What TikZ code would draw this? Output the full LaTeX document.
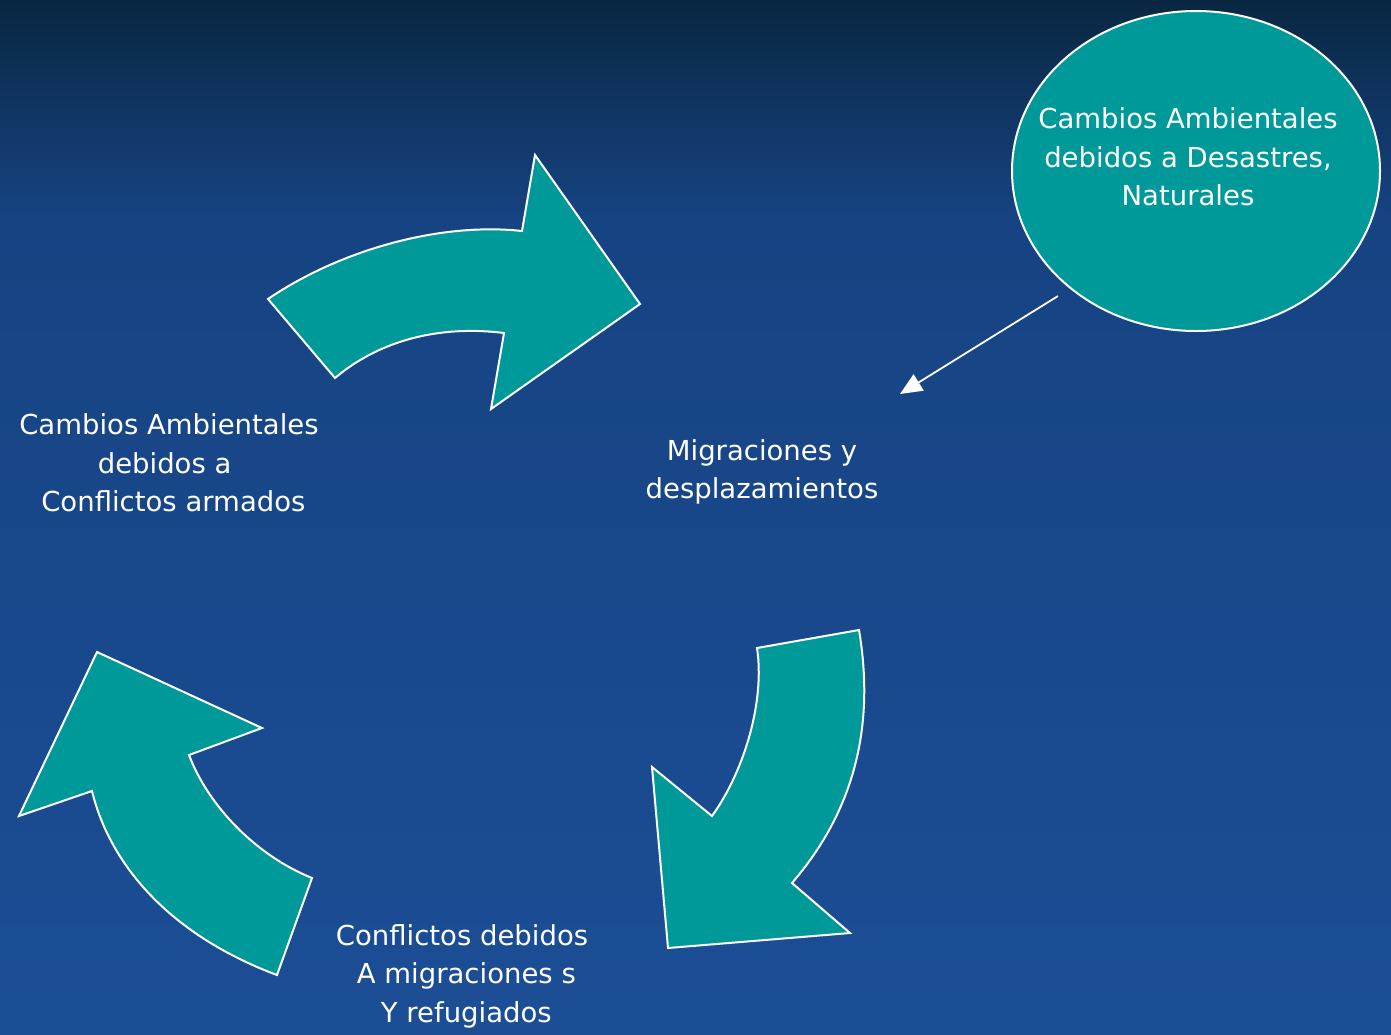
\documentclass[tikz,border=0pt]{standalone}
\usepackage{fontspec}
\setmainfont{DejaVu Sans}
\usetikzlibrary{shapes.geometric,arrows.meta}

\definecolor{fondoalto}{RGB}{9,39,66}
\definecolor{fondomedio}{RGB}{22,67,130}
\definecolor{fondobajo}{RGB}{28,78,150}
\definecolor{verdeazul}{RGB}{0,153,153}

\begin{document}
\begin{tikzpicture}[x=1pt,y=-1pt,
    texto/.style={text=white,align=center,font=\fontsize{27.5}{38.5}\selectfont,inner sep=0pt},
    curva/.style={fill=verdeazul,draw=white,line width=2pt,line join=miter},
    flechita/.style={draw=white,line width=1.8pt,-{Triangle[length=22pt,width=19pt]}}]
    \useasboundingbox (0,0) rectangle (1391,1034);
    \shade[top color=fondoalto,bottom color=fondomedio] (0,0) rectangle (1391,220);
    \shade[top color=fondomedio,bottom color=fondobajo] (0,220) rectangle (1391,1034);

    \draw[curva] (268,299) .. controls (340,250) and (440,222) .. (522,231)
        -- (535,155) -- (640,304) -- (491,409) -- (504,333)
        .. controls (440,325) and (380,340) .. (335,378) -- cycle;
    \draw[curva] (859,630) .. controls (875,725) and (855,810) .. (792,883)
        -- (850,933) -- (668,948) -- (652,767) -- (712,816)
        .. controls (745,770) and (765,700) .. (757,648) -- cycle;
    \draw[curva] (312,878) .. controls (255,855) and (208,805) .. (189,755)
        -- (262,728) -- (97,652) -- (19,816) -- (92,791)
        .. controls (110,865) and (170,935) .. (277,975) -- cycle;

    \node[ellipse,fill=verdeazul,draw=white,line width=2pt,minimum width=368pt,minimum height=320pt,inner sep=0pt] (desastres) at (1196,171) {};
    \node[texto] (desastres texto) at (1188,157) {Cambios Ambientales\\debidos a Desastres,\\Naturales};
    \node[texto] (migraciones) at (762,472) {Migraciones y\\desplazamientos};
    \node[texto] (armados) at (169,463) {Cambios Ambientales\\debidos a\ \mbox{}\\\ Conflictos armados};
    \node[texto] (refugiados) at (462,976) {Conflictos debidos\\\ A migraciones s\\\ Y refugiados};

    \coordinate (llegada) at (900,394);
    \draw[flechita,shorten <=14pt] (desastres.223) -- (llegada);
\end{tikzpicture}
\end{document}
